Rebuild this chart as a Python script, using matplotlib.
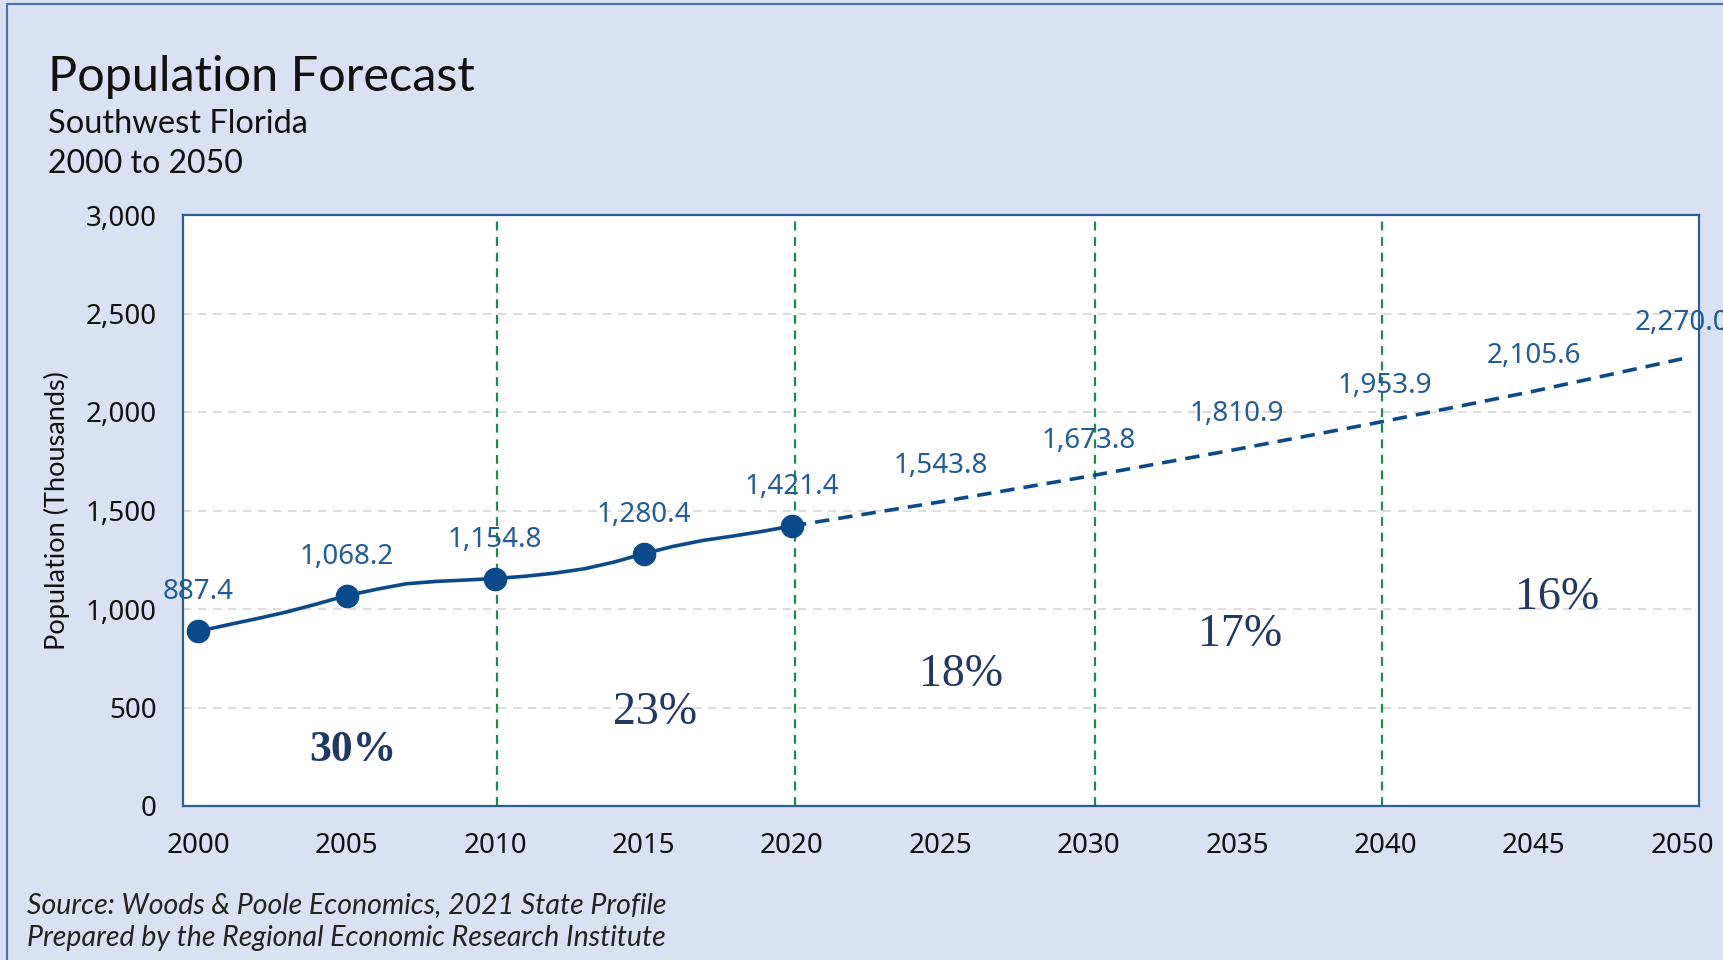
import matplotlib
matplotlib.use("Agg")
import matplotlib.pyplot as plt
from matplotlib.patches import Rectangle

# ---- data ----
hist_years = list(range(2000, 2021))
hist_values = [887.4, 920, 952, 986, 1026, 1068.2, 1100, 1128, 1140, 1147,
               1154.8, 1166, 1182, 1204, 1238, 1280.4, 1318, 1348, 1370, 1394, 1421.4]
marker_years = [2000, 2005, 2010, 2015, 2020]
marker_values = [887.4, 1068.2, 1154.8, 1280.4, 1421.4]
forecast_years = [2020, 2025, 2030, 2035, 2040, 2045, 2050]
forecast_values = [1421.4, 1543.8, 1673.8, 1810.9, 1953.9, 2105.6, 2270.0]
period_labels = ["30%", "23%", "18%", "17%", "16%"]
x_ticks = list(range(2000, 2051, 5))
y_ticks = list(range(0, 3001, 500))

# ---- layout ----
W, H = 1724, 960
BG = "#D9E1F2"
LINE = "#0A4A8A"
LABEL = "#1F5C99"
PCT = "#1F3864"

fig = plt.figure(figsize=(W / 100, H / 100), dpi=100, facecolor=BG)
ax = fig.add_axes([183 / W, 1 - 806 / H, (1699 - 183) / W, (806 - 215) / H])
ax.set_facecolor("white")

ax.set_xlim(1999.48, 2050.57)
ax.set_ylim(0, 3000)

# grid and period separators (as placed in the reference)
divider_pos = [2010.07, 2020.1, 2030.2, 2039.9]
for v in y_ticks[1:-1]:
    ax.axhline(v, color="#D6D6D6", lw=1.2, ls=(0, (5, 4)), zorder=1)
for xd in divider_pos:
    ax.axvline(xd, color="#1E8A50", lw=1.6, ls=(0, (4, 3)), zorder=1)

# lines
ax.plot(hist_years, hist_values, color=LINE, lw=2.6, solid_capstyle="round", zorder=3)
ax.plot(marker_years, marker_values, ls="none", marker="o", ms=16, color=LINE, zorder=4)
ax.plot(forecast_years, forecast_values, color=LINE, lw=2.6, dashes=(4, 2.5), zorder=3)

fkw = dict(family=["Noto Sans", "DejaVu Sans"])
for x, v in zip(marker_years, marker_values):
    ax.annotate(f"{v:,.1f}", (x, v), xytext=(0, 28), textcoords="offset points",
                ha="center", va="center", fontsize=20, color=LABEL,
                annotation_clip=False, zorder=5, **fkw)
for x, v in zip(forecast_years[1:], forecast_values[1:]):
    ax.annotate(f"{v:,.1f}", (x, v), xytext=(0, 25.5), textcoords="offset points",
                ha="center", va="center", fontsize=20, color=LABEL,
                annotation_clip=False, zorder=5, **fkw)

# period growth labels
period_pos = [(2005.2, 285), (2015.4, 474), (2025.7, 665), (2035.1, 868), (2045.8, 1056)]
for i, (lab, (px, py)) in enumerate(zip(period_labels, period_pos)):
    ax.text(px, py, lab, ha="center", va="center",
            fontsize=31.5 if i == 0 else 33, color=PCT,
            fontweight="bold" if i == 0 else "normal",
            family=["Liberation Serif", "DejaVu Serif"], zorder=5)

# ticks
ax.set_xticks(x_ticks)
ax.set_xticklabels([str(t) for t in x_ticks])
ax.set_yticks(y_ticks)
ax.set_yticklabels([f"{t:,}" for t in y_ticks])
ax.tick_params(axis="both", length=0, labelsize=20, labelcolor="#111111")
ax.tick_params(axis="x", pad=19)
ax.tick_params(axis="y", pad=19)
for lbl in ax.get_xticklabels() + ax.get_yticklabels():
    lbl.set_family(["Noto Sans", "DejaVu Sans"])

for sp in ax.spines.values():
    sp.set_color("#2E5E98")
    sp.set_linewidth(1.6)

ax.set_ylabel("Population (Thousands)", fontsize=19.5, family=["Lato", "DejaVu Sans"],
              color="#111111")
ax.yaxis.set_label_coords((70 - 183) / (1699 - 183), 0.5)

# titles
fig.text(48 / W, 1 - 91 / H, "Population Forecast", fontsize=35,
         family=["Lato", "DejaVu Sans"], va="baseline", ha="left", color="#111111")
fig.text(48 / W, 1 - 133 / H, "Southwest Florida", fontsize=23.5,
         family=["Lato", "DejaVu Sans"], va="baseline", ha="left", color="#111111")
fig.text(48 / W, 1 - 173 / H, "2000 to 2050", fontsize=23,
         family=["Lato", "DejaVu Sans"], va="baseline", ha="left", color="#111111")

fig.text(27 / W, 1 - 913 / H, "Source: Woods & Poole Economics, 2021 State Profile",
         fontsize=20.5, style="italic", family=["Lato", "DejaVu Sans"],
         va="baseline", ha="left", color="#222222")
fig.text(27 / W, 1 - 946 / H, "Prepared by the Regional Economic Research Institute",
         fontsize=20.5, style="italic", family=["Lato", "DejaVu Sans"],
         va="baseline", ha="left", color="#222222")

# figure border
fig.patches.append(Rectangle((7 / W, -0.05), 1.2, 1 - 4 / H + 0.05,
                             transform=fig.transFigure, fill=False,
                             edgecolor="#4A72B0", lw=1.5))

fig.savefig("out.png", dpi=100, facecolor=BG)
